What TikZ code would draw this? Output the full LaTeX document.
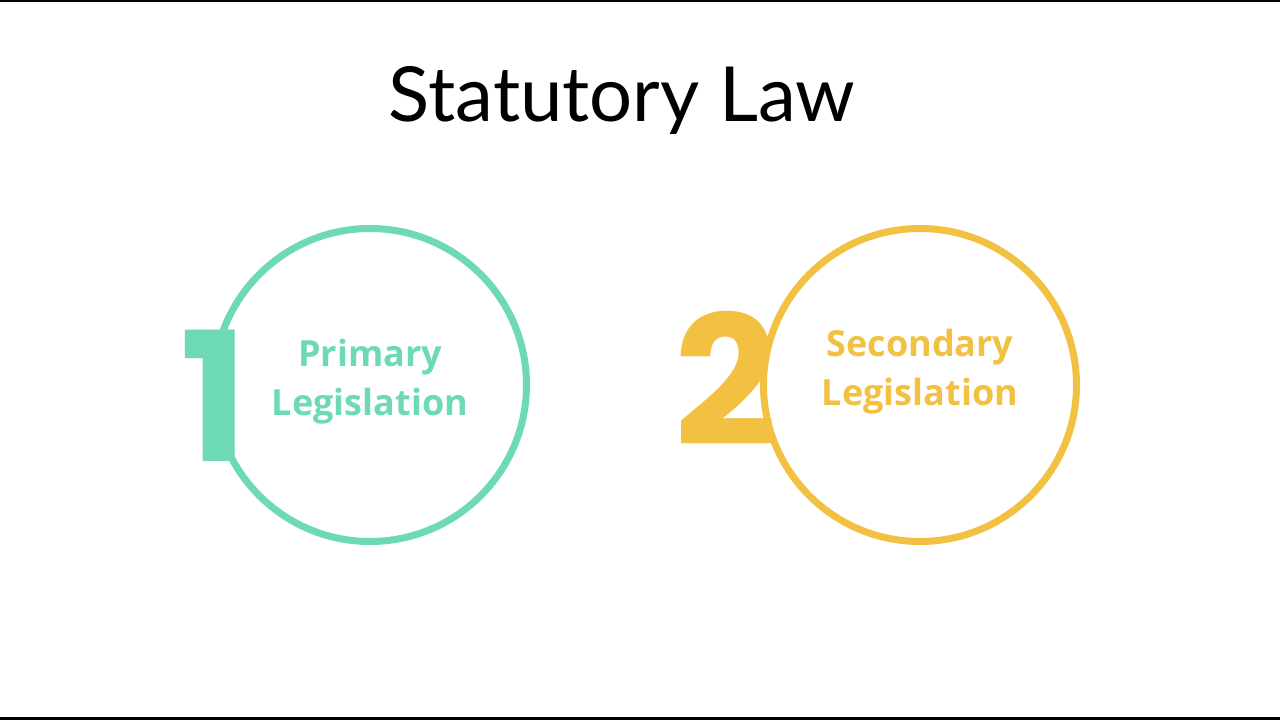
\documentclass[tikz,border=0pt]{standalone}
\usepackage{fontspec}
\setmainfont{Lato}
\newfontfamily\numfont{Poppins}[FakeBold=0]
\newfontfamily\labfont{Open Sans}
\definecolor{teal1}{HTML}{6ED9B6}
\definecolor{gold1}{HTML}{F3C142}
\tikzset{ring/.style={draw, line width=7pt, circle, minimum size=313pt},
 lab/.style={font=\labfont\bfseries\fontsize{36}{49}\selectfont, align=center},
 num/.style={font=\numfont\bfseries\fontsize{180}{180}\selectfont}}
\begin{document}
\begin{tikzpicture}[x=1pt,y=1pt]
\fill[white] (0,0) rectangle (1280,720);
\useasboundingbox (0,0) rectangle (1280,720);
\fill[black] (0,718) rectangle (1280,720);
\fill[black] (0,0) rectangle (1280,3);
\node (title) at (622,620) {\fontsize{76}{80}\selectfont Statutory Law};
\node[ring, color=teal1] (c1) at (370,335) {};
\node[ring, color=gold1] (c2) at (920,335) {};
\node[num, text=teal1] (n1) at (214,324) {1};
\node[num, text=gold1] (n2) at (726,342) {2};
\node[lab, text=teal1] (l1) at (370,338) {Primary\\Legislation};
\node[lab, text=gold1] (l2) at (920,348) {Secondary\\Legislation};
\end{tikzpicture}
\end{document}
